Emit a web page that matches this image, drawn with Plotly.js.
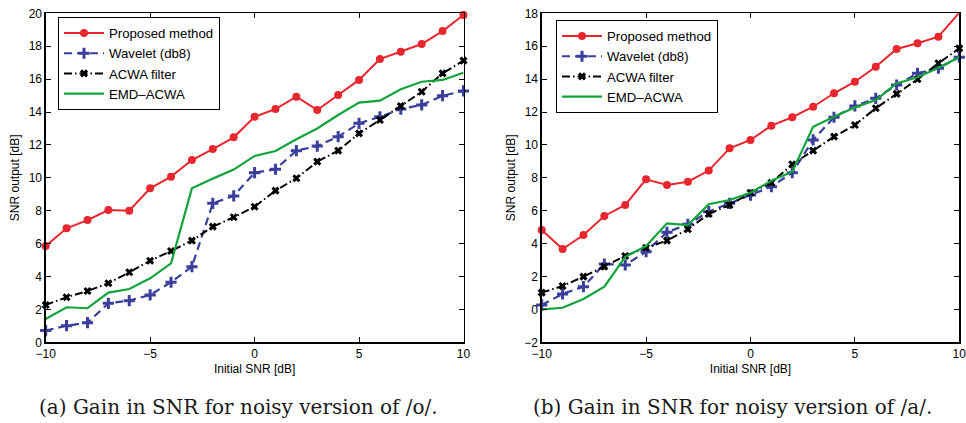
<!DOCTYPE html>
<html>
<head>
<meta charset="utf-8">
<script src="https://cdn.plot.ly/plotly-3.0.1.min.js"></script>
<style>html,body{margin:0;padding:0;background:#fff;}#chart{width:966px;height:423px;}</style>
</head>
<body>
<div id="chart"></div>
<script>
// Shared x values: initial SNR [dB]
const snrIn = [-10,-9,-8,-7,-6,-5,-4,-3,-2,-1,0,1,2,3,4,5,6,7,8,9,10];

// (a) noisy /o/
const aProposed = [5.85,6.93,7.43,8.04,8.0,9.36,10.07,11.08,11.75,12.46,13.71,14.18,14.93,14.12,15.03,15.95,17.22,17.67,18.13,18.92,19.9];
const aWavelet  = [0.71,1.01,1.19,2.37,2.53,2.88,3.65,4.6,8.45,8.9,10.31,10.52,11.65,11.93,12.5,13.31,13.71,14.18,14.43,14.99,15.28];
const aAcwa     = [2.27,2.74,3.12,3.59,4.26,4.96,5.55,6.18,7.03,7.6,8.24,9.22,9.97,10.98,11.65,12.7,13.51,14.36,15.23,16.35,17.12];
const aEmd      = [1.42,2.13,2.07,3.02,3.24,3.89,4.8,9.36,9.95,10.5,11.33,11.63,12.34,13.0,13.82,14.57,14.69,15.38,15.84,15.95,16.39];

// (b) noisy /a/
const bProposed = [4.83,3.67,4.52,5.68,6.35,7.91,7.56,7.76,8.44,9.79,10.3,11.17,11.68,12.32,13.14,13.84,14.75,15.83,16.18,16.58,18.04];
const bWavelet  = [0.27,0.94,1.38,2.76,2.7,3.51,4.69,5.17,5.94,6.45,6.95,7.46,8.31,10.3,11.68,12.37,12.83,13.64,14.35,14.66,15.33];
const bAcwa     = [1.02,1.42,1.99,2.6,3.25,3.75,4.18,4.87,5.8,6.35,7.09,7.7,8.82,9.65,10.5,11.21,12.23,13.1,13.99,14.96,15.87];
const bEmd      = [0.0,0.1,0.63,1.38,3.2,3.85,5.23,5.13,6.39,6.65,7.09,7.82,8.37,11.1,11.71,12.28,12.73,13.74,14.11,14.69,15.33];

const seriesNames = ["Proposed method","Wavelet (db8)","ACWA filter","EMD\u2013ACWA"];
const xTitle = "Initial SNR [dB]";
const yTitle = "SNR output [dB]";
const captionA = "(a) Gain in SNR for noisy version of /o/.";
const captionB = "(b) Gain in SNR for noisy version of /a/.";

const styles = [
  {line:{color:"#e8262d",width:2}, mode:"lines+markers", marker:{symbol:"circle",size:8,color:"#e8262d"}},
  {line:{color:"#3a3f9c",width:2.2,dash:"8px,5px"}, mode:"lines+markers", marker:{symbol:"cross-thin-open",size:8,line:{color:"#3a3f9c",width:3}}},
  {line:{color:"#000000",width:2,dash:"8px,3px,1.5px,3px"}, mode:"lines+markers", marker:{symbol:"x-thin-open",size:6,line:{color:"#000000",width:3}}},
  {line:{color:"#12a33a",width:2.2}, mode:"lines"}
];

const aSeries = [aProposed,aWavelet,aAcwa,aEmd];
const bSeries = [bProposed,bWavelet,bAcwa,bEmd];
const traces = [];
aSeries.forEach((ys,i)=>{
  traces.push(Object.assign({x:snrIn,y:ys,name:seriesNames[i],xaxis:"x",yaxis:"y",legend:"legend",type:"scatter",cliponaxis:false},JSON.parse(JSON.stringify(styles[i]))));
});
bSeries.forEach((ys,i)=>{
  traces.push(Object.assign({x:snrIn,y:ys,name:seriesNames[i],xaxis:"x2",yaxis:"y2",legend:"legend2",type:"scatter",cliponaxis:false},JSON.parse(JSON.stringify(styles[i]))));
});

const W=966,H=423;
const tickFont={family:"Liberation Sans, Arial, sans-serif",size:12,color:"#000"};
function xax(dom,anchor){
  return {domain:dom,anchor:anchor,range:[-10,10.001],tickvals:[-10,-5,0,5,10],ticktext:["\u221210","\u22125","0","5","10"],
    ticks:"inside",ticklen:5,tickwidth:1,tickcolor:"#000",showline:true,linecolor:"#000",linewidth:1.3,mirror:"ticks",
    showgrid:false,zeroline:false,tickfont:tickFont,automargin:false,ticklabeloverflow:"allow",
    title:{text:xTitle,font:{family:"Liberation Sans, Arial, sans-serif",size:12,color:"#000"},standoff:4}};
}
function yax(dom,anchor,rng,vals){
  return {domain:dom,anchor:anchor,range:rng,tickvals:vals,ticktext:vals.map(v=>v<0?"\u2212"+Math.abs(v):String(v)),
    ticks:"inside",ticklen:5,tickwidth:1,tickcolor:"#000",showline:true,linecolor:"#000",linewidth:1.3,mirror:"ticks",
    showgrid:false,zeroline:false,tickfont:tickFont,automargin:false,ticklabeloverflow:"allow",
    title:{text:yTitle,font:{family:"Liberation Sans, Arial, sans-serif",size:12,color:"#000"},standoff:6}};
}
const yDom=[1-342.3/H,1-13.3/H];
const legendBase={bgcolor:"#fff",bordercolor:"#000",borderwidth:1,xanchor:"left",yanchor:"top",
  font:{family:"Liberation Sans, Arial, sans-serif",size:13.2,color:"#000"},itemwidth:40,tracegroupgap:0,itemclick:false};
const layout={
  width:W,height:H,margin:{l:0,r:0,t:0,b:0},paper_bgcolor:"#fff",plot_bgcolor:"#fff",
  showlegend:true,
  xaxis:xax([45.7/W,463.5/W],"y"),
  yaxis:yax(yDom,"x",[0,20],[0,2,4,6,8,10,12,14,16,18,20]),
  xaxis2:xax([541.7/W,959.3/W],"y2"),
  yaxis2:yax(yDom,"x2",[-2,18],[-2,0,2,4,6,8,10,12,14,16,18]),
  legend:Object.assign({x:58/W,y:1-17/H},legendBase),
  legend2:Object.assign({x:556/W,y:1-20/H},legendBase),
  annotations:[
    {text:captionA,xref:"paper",yref:"paper",x:238/W,y:1-407/H,xanchor:"center",yanchor:"middle",showarrow:false,
     font:{family:"DejaVu Serif, serif",size:20,color:"#1a1a1a"}},
    {text:captionB,xref:"paper",yref:"paper",x:732/W,y:1-407/H,xanchor:"center",yanchor:"middle",showarrow:false,
     font:{family:"DejaVu Serif, serif",size:20,color:"#1a1a1a"}}
  ]
};
Plotly.newPlot("chart",traces,layout,{displayModeBar:false,staticPlot:true});
</script>
</body>
</html>
